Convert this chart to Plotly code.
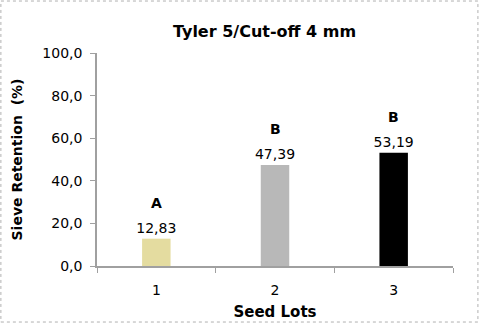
import plotly.graph_objects as go

categories = ["1", "2", "3"]
values = [12.83, 47.39, 53.19]
value_labels = ["12,83", "47,39", "53,19"]
letters = ["A", "B", "B"]
y_ticks = [0, 20, 40, 60, 80, 100]
y_tick_labels = ["0,0", "20,0", "40,0", "60,0", "80,0", "100,0"]

FONT = "DejaVu Sans"

fig = go.Figure()
fig.add_trace(go.Bar(
    x=categories, y=values,
    text=value_labels, textposition="outside",
    textfont=dict(family=FONT, size=14, color="black"),
    constraintext="none",
    cliponaxis=False,
    width=0.24,
    marker=dict(
        color=["#e4dca0", "#b8b8b8", "#000000"],
        line=dict(width=0),
    ),
    showlegend=False,
))

for i, (v, l) in enumerate(zip(values, letters)):
    fig.add_annotation(x=i, y=v, text=f"<b>{l}</b>", showarrow=False,
                       yshift=36, font=dict(family=FONT, size=14, color="black"))

fig.update_layout(
    width=481, height=326,
    margin=dict(l=97, r=28, t=53, b=60, autoexpand=False),
    paper_bgcolor="white", plot_bgcolor="white",
    separators=",.",
    title=dict(text="<b>Tyler 5/Cut-off 4 mm</b>", x=0.55, xanchor="center",
               y=0.905, yanchor="middle", font=dict(family=FONT, size=16, color="black")),
    font=dict(family=FONT, color="black"),
    xaxis=dict(
        type="category", range=[-0.5, 2.5], automargin=False,
        title=dict(text="<b>Seed Lots</b>", font=dict(family=FONT, size=15), standoff=10),
        tickson="boundaries", ticks="outside", ticklen=5, tickcolor="#a0a0a0",
        ticklabelstandoff=10,
        showline=True, linecolor="#a0a0a0", linewidth=1.5,
        tickfont=dict(family=FONT, size=14), showgrid=False,
    ),
    yaxis=dict(
        automargin=False,
        title=dict(text="<b>Sieve Retention  (%)</b>", font=dict(family=FONT, size=14), standoff=16),
        range=[0, 100], tickvals=y_ticks, ticktext=y_tick_labels,
        ticks="outside", ticklen=5, tickcolor="#a0a0a0",
        ticklabelstandoff=5,
        showline=True, linecolor="#a0a0a0", linewidth=1.5,
        tickfont=dict(family=FONT, size=14), showgrid=False, zeroline=False,
    ),
    shapes=[dict(type="rect", xref="paper", yref="paper", x0=-0.27, x1=1.07, y0=-0.263, y1=1.244,
                 line=dict(color="#b0b0b0", width=1, dash="dot"))],
)

fig.write_html("out.html")
